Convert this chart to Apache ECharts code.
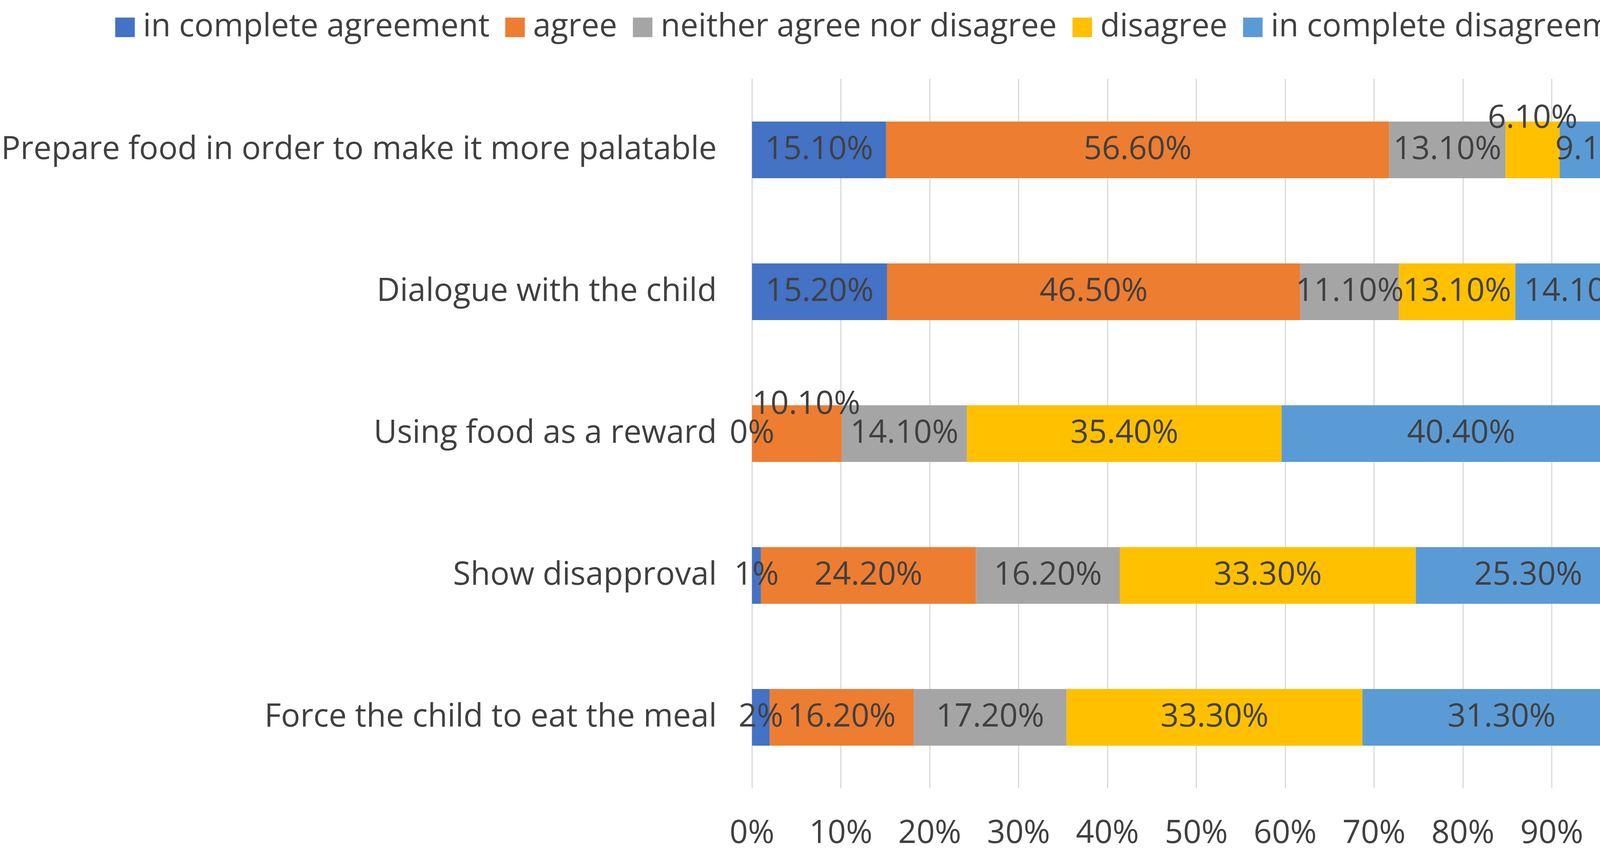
<!DOCTYPE html>
<html>
<head>
<meta charset="utf-8">
<script src="https://cdn.jsdelivr.net/npm/echarts@6/dist/echarts.min.js"></script>
<style>
html,body{margin:0;padding:0;background:#fff;}
#chart{width:4316px;height:2198px;}
</style>
</head>
<body>
<div id="chart"></div>
<script>
const categories = [
  'Force the child to eat the meal',
  'Show disapproval',
  'Using food as a reward',
  'Dialogue with the child',
  'Prepare food in order to make it more palatable'
];
const seriesNames = ['in complete agreement','agree','neither agree nor disagree','disagree','in complete disagreemnt'];
const completeAgreement = [2, 1, 0, 15.2, 15.1];
const agree = [16.2, 24.2, 10.1, 46.5, 56.6];
const neither = [17.2, 16.2, 14.1, 11.1, 13.1];
const disagree = [33.3, 33.3, 35.4, 13.1, 6.1];
const completeDisagreement = [31.3, 25.3, 40.4, 14.1, 9.1];
const xTicks = [0,10,20,30,40,50,60,70,80,90,100];

const colors = ['#4472C4','#ED7D31','#A5A5A5','#FFC000','#5B9BD5'];
const FONT = 'Open Sans';
const FS = 82;
const TXT = '#404040';

function fmt(v){ return Number.isInteger(v) ? v + '%' : v.toFixed(2) + '%'; }

// label offsets for labels moved out of narrow segments
const labelOffsets = { '1-2': [24,-74], '3-4': [0,-80] };

const allValues = [completeAgreement, agree, neither, disagree, completeDisagreement];
const series = allValues.map((vals, si) => ({
  name: seriesNames[si],
  type: 'bar',
  stack: 'total',
  barCategoryGap: '60%',
  itemStyle: { color: colors[si] },
  label: {
    show: true,
    position: 'inside',
    fontFamily: FONT,
    fontSize: FS,
    color: TXT,
    formatter: p => fmt(p.value)
  },
  data: vals.map((v, ci) => {
    const key = si + '-' + ci;
    if (labelOffsets[key]) {
      return { value: v, label: { offset: labelOffsets[key] } };
    }
    return v;
  })
}));

const chart = echarts.init(document.getElementById('chart'));
chart.setOption({
  backgroundColor: '#ffffff',
  animation: false,
  color: colors,
  legend: {
    data: seriesNames,
    left: 290,
    top: 24,
    icon: 'rect',
    itemWidth: 50,
    itemHeight: 50,
    itemGap: 40,
    textStyle: { fontFamily: FONT, fontSize: FS, color: TXT, padding: [0,0,0,16] }
  },
  grid: { left: 1920, right: 116, top: 202, bottom: 181, containLabel: false },
  xAxis: {
    type: 'value',
    min: 0,
    max: 100,
    interval: 10,
    axisLine: { show: false },
    axisTick: { show: false },
    splitLine: { show: true, lineStyle: { color: '#d9d9d9', width: 3 } },
    axisLabel: {
      fontFamily: FONT, fontSize: FS, color: TXT, margin: 76,
      formatter: v => xTicks.includes(v) ? v + '%' : ''
    }
  },
  yAxis: {
    type: 'category',
    data: categories,
    axisLine: { show: false },
    axisTick: { show: false },
    axisLabel: { fontFamily: FONT, fontSize: FS, color: TXT, margin: 90 }
  },
  series: series
});
</script>
</body>
</html>
